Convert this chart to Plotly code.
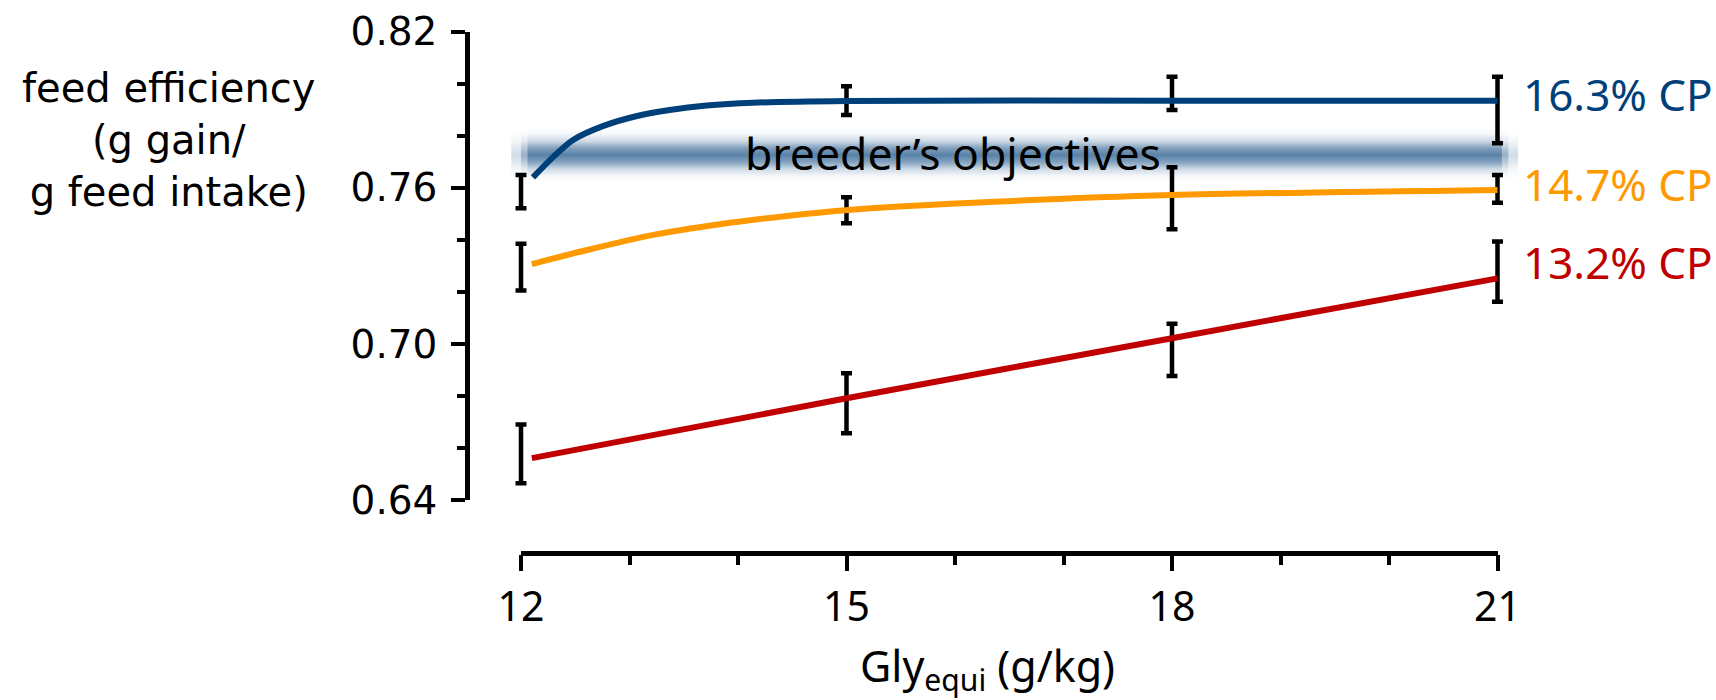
import plotly.graph_objects as go

# ---------------- data ----------------
gly_levels = [12, 15, 18, 21]

# observed means and standard errors
cp163_mean = [0.7585, 0.7935, 0.7963, 0.7899]
cp163_err = [0.0064, 0.0055, 0.0064, 0.0128]
cp147_mean = [0.7295, 0.7514, 0.7560, 0.7596]
cp147_err = [0.0090, 0.0050, 0.0119, 0.0053]
cp132_mean = [0.6577, 0.6772, 0.6977, 0.7278]
cp132_err = [0.0113, 0.0115, 0.0100, 0.0116]

# fitted response curves
cp163_curve_x = [12.11, 12.30, 12.48, 12.76, 13.07, 13.37, 13.71, 14.14, 15.0, 18.0, 21.0]
cp163_curve_y = [0.7640, 0.7720, 0.7784, 0.7838, 0.7876, 0.7899, 0.7916, 0.7927, 0.7934, 0.7935, 0.7935]
cp147_curve_x = [12.10, 12.61, 13.22, 13.83, 14.45, 15.02, 16.41, 18.0, 21.0]
cp147_curve_y = [0.7307, 0.7361, 0.7419, 0.7460, 0.7492, 0.7515, 0.7547, 0.7572, 0.7592]
cp132_curve_x = [12.10, 15.0, 18.0, 21.0]
cp132_curve_y = [0.6561, 0.6791, 0.7022, 0.7252]

series_labels = ["16.3% CP", "14.7% CP", "13.2% CP"]
label_y = [0.7960, 0.7615, 0.7314]

objective_level = 0.7726
objective_halfwidth = 0.0105
objective_x = [12.0, 21.1]
objective_text = "breeder’s objectives"
objective_text_x = 14.05

x_ticks = [12, 15, 18, 21]
y_ticks = [0.64, 0.70, 0.76, 0.82]
x_range = [12, 21]
y_range = [0.64, 0.82]

# ---------------- styles ----------------
BLUE = "#00407a"
ORANGE = "#ff9900"
RED = "#c00000"

W, H = 1716, 700
x_left_px, x_right_px = 521, 1497.5
y_top_px, y_bot_px = 31.7, 500
xaxis_line_px = 552.7
yaxis_line_px = 467

# an invisible, wider x axis with the same scale so marks at the
# range ends (error-bar caps, band glow) are not clipped
px_per_unit = (x_right_px - x_left_px) / (x_range[1] - x_range[0])
pad_px = 40
x2_domain = [(x_left_px - pad_px) / W, (x_right_px + pad_px) / W]
x2_range = [x_range[0] - pad_px / px_per_unit, x_range[1] + pad_px / px_per_unit]

fig = go.Figure()

# blurred "breeder's objectives" band (layers with soft ends)
band_layers = [(0.06, 0.42), (0.0, 0.27), (-0.09, 0.18)]
for ext, op in band_layers:
    x0 = objective_x[0] + ext
    x1 = objective_x[1] - ext
    y0 = objective_level - objective_halfwidth
    y1 = objective_level + objective_halfwidth
    fig.add_trace(go.Scatter(
        x=[x0, x1, x1, x0, x0], y=[y0, y0, y1, y1, y0],
        xaxis="x2", yaxis="y",
        mode="lines", line=dict(width=0), fill="toself",
        fillgradient=dict(
            type="vertical",
            colorscale=[
                [0.0, "rgba(0,64,122,0)"],
                [0.12, "rgba(0,64,122,0.05)"],
                [0.25, "rgba(0,64,122,0.25)"],
                [0.38, "rgba(0,64,122,0.7)"],
                [0.5, "rgba(0,64,122,1)"],
                [0.62, "rgba(0,64,122,0.7)"],
                [0.75, "rgba(0,64,122,0.25)"],
                [0.88, "rgba(0,64,122,0.05)"],
                [1.0, "rgba(0,64,122,0)"],
            ],
        ),
        opacity=op, hoverinfo="skip", showlegend=False,
    ))

# error bars
for mean, err in [(cp163_mean, cp163_err), (cp147_mean, cp147_err), (cp132_mean, cp132_err)]:
    fig.add_trace(go.Scatter(
        x=gly_levels, y=mean, mode="markers",
        xaxis="x2", yaxis="y",
        marker=dict(size=1, color="rgba(0,0,0,0)"),
        error_y=dict(type="data", array=err, visible=True,
                     color="black", thickness=4.5, width=5.5),
        showlegend=False,
    ))

# fitted curves
for cx, cy, col in [(cp163_curve_x, cp163_curve_y, BLUE),
                    (cp147_curve_x, cp147_curve_y, ORANGE),
                    (cp132_curve_x, cp132_curve_y, RED)]:
    fig.add_trace(go.Scatter(
        x=cx, y=cy, mode="lines",
        xaxis="x2", yaxis="y",
        line=dict(color=col, width=6, shape="spline", smoothing=0.8),
        showlegend=False,
    ))

# an empty trace to keep the visible x axis in use
fig.add_trace(go.Scatter(x=[], y=[], xaxis="x", yaxis="y", showlegend=False))

annotations = []
for lab, ly, col in zip(series_labels, label_y, [BLUE, ORANGE, RED]):
    annotations.append(dict(
        x=1521 / W, xref="paper", y=ly, yref="y", text=lab,
        xanchor="left", yanchor="middle", showarrow=False,
        font=dict(family="Noto Sans", size=44, color=col)))

annotations.append(dict(
    x=objective_text_x, xref="x", y=objective_level + 0.0008, yref="y",
    text=objective_text, xanchor="left", yanchor="middle", showarrow=False,
    font=dict(family="Noto Sans", size=44.5, color="black")))

annotations.append(dict(
    x=168 / W, xref="paper", y=(H - 140) / H, yref="paper",
    text="feed efficiency<br>(g gain/<br>g feed intake)",
    xanchor="center", yanchor="middle", align="center", showarrow=False,
    font=dict(family="DejaVu Sans", size=40, color="black")))

annotations.append(dict(
    x=987 / W, xref="paper", y=(H - 668) / H, yref="paper",
    text="Gly<sub>equi</sub> (g/kg)",
    xanchor="center", yanchor="middle", showarrow=False,
    font=dict(family="Noto Sans", size=43, color="black")))

fig.update_layout(
    template="none",
    width=W, height=H,
    margin=dict(l=0, r=0, t=0, b=0, autoexpand=False),
    paper_bgcolor="white", plot_bgcolor="rgba(0,0,0,0)",
    showlegend=False,
    annotations=annotations,
    xaxis=dict(
        domain=[x_left_px / W, x_right_px / W],
        range=x_range, anchor="free", position=(H - xaxis_line_px) / H,
        automargin=False,
        showgrid=False, zeroline=False,
        showline=True, linecolor="black", linewidth=4.5,
        tickmode="array", tickvals=x_ticks, ticktext=[str(v) for v in x_ticks],
        ticks="outside", ticklen=16, tickwidth=4, tickcolor="black",
        minor=dict(dtick=1, tick0=12, ticks="outside", ticklen=10,
                   tickwidth=4, tickcolor="black", showgrid=False),
        tickfont=dict(family="Noto Sans", size=41, color="black"),
        ticklabelstandoff=0,
    ),
    xaxis2=dict(
        domain=x2_domain, range=x2_range, anchor="y",
        visible=False, automargin=False, showgrid=False, zeroline=False,
    ),
    yaxis=dict(
        domain=[(H - y_bot_px) / H, (H - y_top_px) / H],
        range=y_range, anchor="free", position=yaxis_line_px / W,
        automargin=False,
        showgrid=False, zeroline=False,
        showline=True, linecolor="black", linewidth=4.5,
        tickmode="array", tickvals=y_ticks,
        ticktext=[f"{v:.2f}" for v in y_ticks],
        ticks="outside", ticklen=14, tickwidth=4, tickcolor="black",
        minor=dict(dtick=0.02, tick0=0.64, ticks="outside", ticklen=8,
                   tickwidth=4, tickcolor="black", showgrid=False),
        tickfont=dict(family="DejaVu Sans", size=39, color="black"),
        ticklabelstandoff=6,
    ),
)

fig.write_html("out.html")
